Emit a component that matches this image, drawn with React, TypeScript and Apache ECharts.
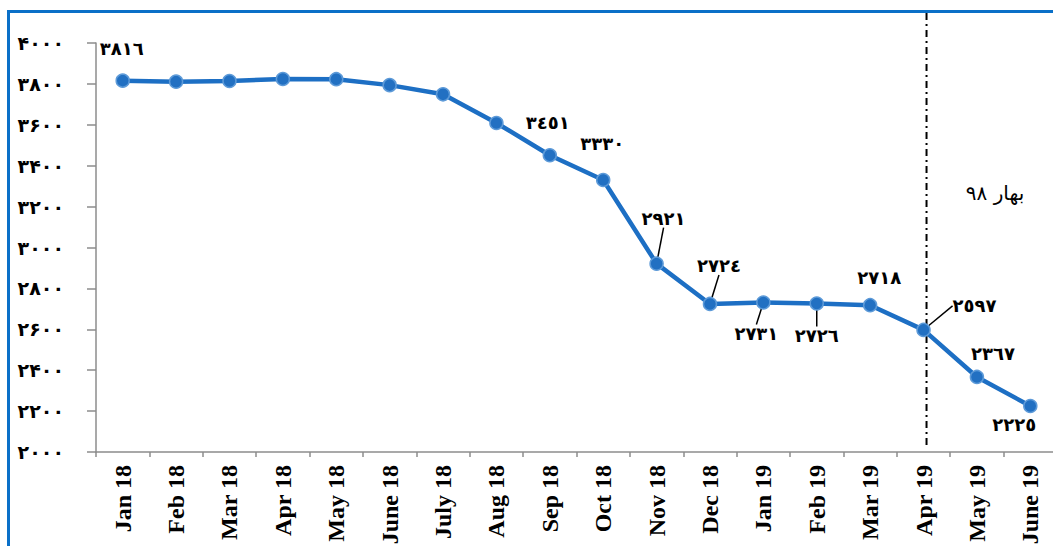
import React, { useEffect, useRef } from "react";
import * as echarts from "echarts";

const categories = [
  "Jan 18", "Feb 18", "Mar 18", "Apr 18", "May 18", "June 18", "July 18", "Aug 18", "Sep 18",
  "Oct 18", "Nov 18", "Dec 18", "Jan 19", "Feb 19", "Mar 19", "Apr 19", "May 19", "June 19",
];
const values = [3816, 3811, 3814, 3824, 3823, 3794, 3749, 3609, 3451, 3330, 2921, 2724, 2731, 2726, 2718, 2597, 2367, 2225];
const showLabel = [true, false, false, false, false, false, false, false, true, true, true, true, true, true, true, true, true, true];
const showLeader = [false, false, false, false, false, false, false, false, false, false, true, true, true, true, false, true, false, false];
const labelShift: [number, number][] = [
  [-1, -32], [0, 0], [0, 0], [0, 0], [0, 0], [0, 0], [0, 0], [0, 0], [-2, -33],
  [-1, -37], [7, -45], [9, -38], [-7, 31], [0, 32], [9, -28], [51, -24], [16, -23], [-16, 19],
];
const yMin = 2000;
const yMax = 4000;
const yStep = 200;
const markerCategory = "Apr 19";
const seasonNote = "بهار ۹۸";

const persian = "۰۱۲۳۴۵۶۷۸۹";
const arabic = "٠١٢٣٤٥٦٧٨٩";
const toDigits = (n: number, set: string) => String(n).replace(/[0-9]/g, (d) => set[Number(d)]);

export default function App() {
  const ref = useRef<HTMLDivElement>(null);
  useEffect(() => {
    if (!ref.current) return;
    const chart = echarts.init(ref.current, null, { renderer: "svg" });
    const frame = [
      { type: "rect", shape: { x: 7, y: 10, width: 1046, height: 3 }, style: { fill: "#0a70c8" }, z: 10 },
      { type: "rect", shape: { x: 7, y: 10, width: 3, height: 536 }, style: { fill: "#0a70c8" }, z: 10 },
      {
        type: "text",
        x: 995,
        y: 193,
        style: {
          text: seasonNote,
          fill: "#000",
          font: "20px 'DejaVu Sans'",
          align: "center",
          verticalAlign: "middle",
        },
      },
    ];
    chart.setOption({
      animation: false,
      backgroundColor: "#ffffff",
      grid: { left: 96, top: 43, right: -4, bottom: 94, containLabel: false, outerBoundsMode: "none" },
      xAxis: {
        type: "category",
        data: categories,
        boundaryGap: true,
        axisLine: { lineStyle: { color: "#8c8c8c", width: 1.5 } },
        axisTick: { show: true, length: 5, lineStyle: { color: "#8c8c8c", width: 1.5 } },
        axisLabel: {
          rotate: 90,
          margin: 13,
          color: "#000",
          fontFamily: "Liberation Serif",
          fontWeight: "bold",
          fontSize: 24,
          interval: 0,
        },
        splitLine: { show: false },
      },
      yAxis: {
        type: "value",
        min: yMin,
        max: yMax,
        interval: yStep,
        axisLine: { show: true, lineStyle: { color: "#8c8c8c", width: 1.5 } },
        axisTick: { show: true, length: 9, lineStyle: { color: "#8c8c8c", width: 1.5 } },
        axisLabel: {
          margin: 32,
          color: "#000",
          fontFamily: "DejaVu Sans",
          fontWeight: "bold",
          fontSize: 19,
          formatter: (v: number) => toDigits(v, persian),
        },
        splitLine: { show: false },
      },
      series: [
        {
          type: "line",
          data: values.map((v, i) => ({
            value: v,
            label: { show: showLabel[i] },
            labelLine: { show: showLeader[i] },
          })),
          lineStyle: { color: "#1d6fc4", width: 4.5 },
          symbol: "circle",
          symbolSize: 13,
          itemStyle: { color: "#2270c2", borderColor: "#5d9ad8", borderWidth: 1.5 },
          label: {
            show: true,
            position: "inside",
            color: "#000",
            fontFamily: "DejaVu Sans",
            fontWeight: "bold",
            fontSize: 18,
            formatter: (p: any) => toDigits(p.value, arabic),
          },
          labelLine: { show: false, lineStyle: { color: "#000", width: 1.5 } },
          labelLayout: (p: any) => ({ dx: labelShift[p.dataIndex][0], dy: labelShift[p.dataIndex][1] }),
          emphasis: { disabled: true },
          z: 3,
        },
      ],
      graphic: frame,
    });
    const mx = chart.convertToPixel({ xAxisIndex: 0 }, markerCategory) as number;
    const yBottom = chart.convertToPixel({ yAxisIndex: 0 }, yMin) as number;
    chart.setOption({
      graphic: [
        ...frame,
        {
          type: "line",
          shape: { x1: mx + 3, y1: 13, x2: mx + 3, y2: yBottom - 4 },
          style: { stroke: "#000", lineWidth: 2, lineDash: [7, 4, 2, 4] },
          z: 2,
        },
      ],
    });
    return () => chart.dispose();
  }, []);
  return <div ref={ref} style={{ position: "fixed", left: 0, top: 0, width: 1053, height: 546 }} />;
}
